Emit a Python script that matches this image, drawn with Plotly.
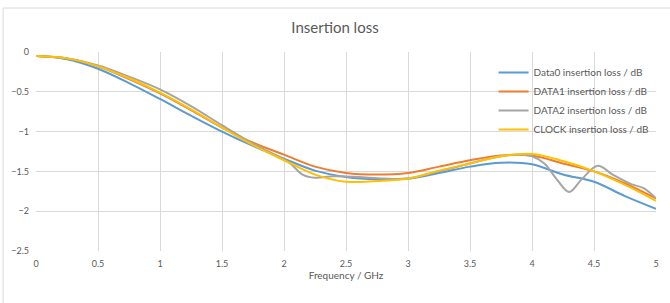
import plotly.graph_objects as go

freq = [0, 0.25, 0.5, 0.75, 1.0, 1.25, 1.5, 1.75, 2.0, 2.25, 2.5, 2.75, 3.0,
        3.25, 3.5, 3.75, 4.0, 4.25, 4.5, 4.75, 5.0]
data0 = [-0.05, -0.09, -0.21, -0.39, -0.59, -0.80, -1.00, -1.18, -1.34, -1.49,
         -1.57, -1.60, -1.59, -1.52, -1.44, -1.39, -1.41, -1.54, -1.63, -1.81, -1.97]
data1 = [-0.05, -0.08, -0.18, -0.34, -0.52, -0.73, -0.95, -1.14, -1.29, -1.44,
         -1.52, -1.54, -1.52, -1.44, -1.36, -1.30, -1.30, -1.40, -1.50, -1.65, -1.84]
clock = [-0.05, -0.08, -0.18, -0.33, -0.51, -0.72, -0.95, -1.17, -1.36, -1.54,
         -1.63, -1.62, -1.59, -1.49, -1.40, -1.31, -1.28, -1.37, -1.50, -1.67, -1.87]
freq2 = [0, 0.25, 0.5, 0.75, 1.0, 1.25, 1.5, 1.75, 2.0, 2.05, 2.15, 2.25, 2.4,
         2.6, 2.8, 3.0, 3.25, 3.5, 3.75, 3.9, 4.0, 4.1, 4.2, 4.3, 4.4, 4.53,
         4.65, 4.8, 4.9, 5.0]
data2 = [-0.05, -0.08, -0.17, -0.31, -0.47, -0.68, -0.92, -1.15, -1.35, -1.40,
         -1.54, -1.58, -1.56, -1.57, -1.59, -1.59, -1.50, -1.40, -1.31, -1.29,
         -1.31, -1.40, -1.60, -1.76, -1.60, -1.43, -1.54, -1.66, -1.71, -1.84]

names = ["Data0 insertion loss / dB", "DATA1 insertion loss / dB",
         "DATA2 insertion loss / dB", "CLOCK insertion loss / dB"]
colors = ["#5B9BD5", "#ED7D31", "#A5A5A5", "#FFC000"]
series = [(freq, data0), (freq, data1), (freq2, data2), (freq, clock)]

FONT = "Lato"
TXT = "#595959"
GRID = "#D9D9D9"

fig = go.Figure()
for (xs, ys), n, c in zip(series, names, colors):
    fig.add_trace(go.Scatter(x=xs, y=ys, name=n, mode="lines",
                             line=dict(color=c, width=2, shape="spline", smoothing=1.0)))

fig.update_layout(
    width=670, height=303,
    margin=dict(l=36, r=14, t=52, b=52, autoexpand=False),
    paper_bgcolor="white", plot_bgcolor="white",
    font=dict(family=FONT, color=TXT, size=9),
    title=dict(text="Insertion loss", x=0.5, xanchor="center", y=0.91, yanchor="middle",
               font=dict(size=15, color=TXT, family=FONT)),
    showlegend=True,
    legend=dict(x=0.738, y=0.97, xanchor="left", yanchor="top",
                bgcolor="rgba(255,255,255,0)", font=dict(size=10, color=TXT, family=FONT),
                itemwidth=30, tracegroupgap=0),
    xaxis=dict(range=[0, 5], dtick=0.5, showgrid=True, gridcolor=GRID, gridwidth=1,
               zeroline=False, showline=False, ticks="", ticklabelstandoff=6,
               title=dict(text="Frequency / GHz", standoff=3, font=dict(size=10, color=TXT))),
    yaxis=dict(range=[-2.5, 0], dtick=0.5, showgrid=True, gridcolor=GRID, gridwidth=1,
               zeroline=False, showline=False, ticks="", ticklabelstandoff=6),
    shapes=[dict(type="rect", xref="paper", yref="paper", x0=-0.053, x1=1.2,
                 y0=-0.4, y1=1.221, line=dict(color="#D9D9D9", width=1), layer="below")],
)

fig.write_html("out.html", config={"displayModeBar": False},
               post_script="document.body.style.margin='0px';")
